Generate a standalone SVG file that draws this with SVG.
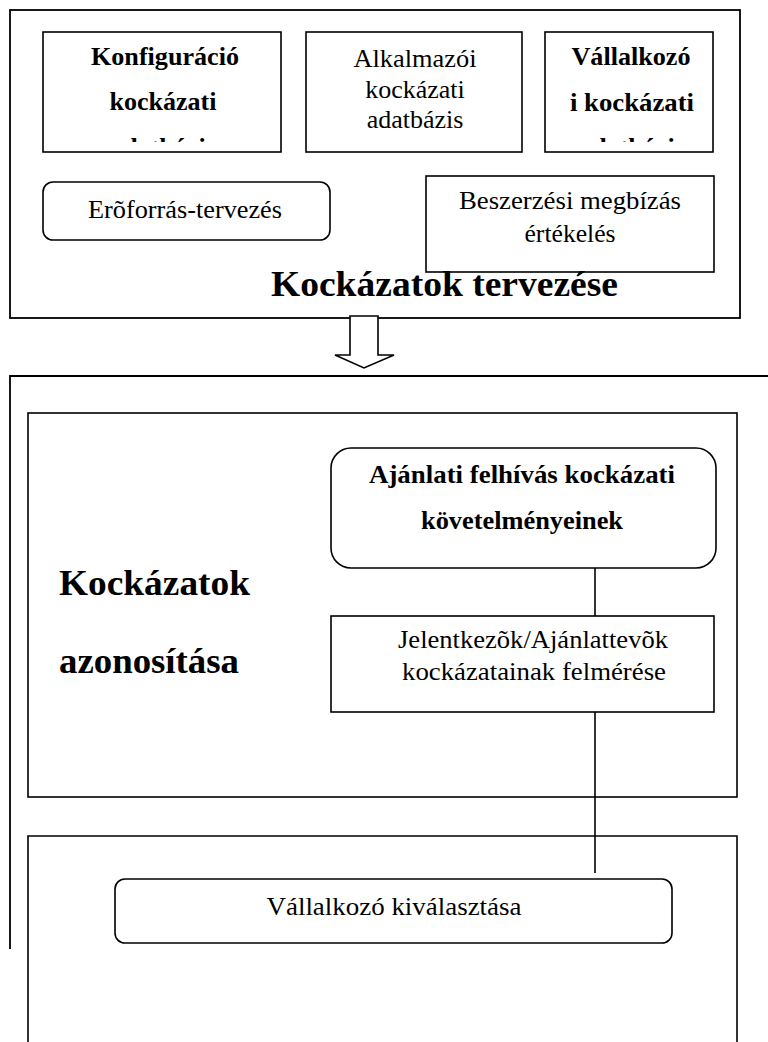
<svg xmlns="http://www.w3.org/2000/svg" width="768" height="1042" viewBox="0 0 768 1042" font-family="'Liberation Serif', 'DejaVu Serif', serif">
<style>
.box{fill:#fff;stroke:#000;stroke-width:1.6}
.frame{fill:none;stroke:#000;stroke-width:1.8}
.ln{fill:none;stroke:#000;stroke-width:1.6}
text{font-family:"Liberation Serif","Times New Roman",serif;fill:#000}
.r{font-size:26px}
.b{font-size:26px;font-weight:bold}
.big{font-size:35px;font-weight:bold}
.m{text-anchor:middle}
</style>
<defs>
<clipPath id="c1"><rect x="43" y="32" width="238" height="110"/></clipPath>
<clipPath id="c3"><rect x="545" y="32" width="168" height="110"/></clipPath>
</defs>
<rect width="768" height="1042" fill="#fff"/>

<g id="planning">
<rect class="frame" x="10" y="10" width="730" height="308"/>
</g>
<g id="konfig">
<rect class="box" x="43" y="32" width="238" height="120"/>
<g clip-path="url(#c1)">
<text class="b m" x="165" y="65" textLength="148" lengthAdjust="spacingAndGlyphs">Konfiguráció</text>
<text class="b m" x="163" y="110" textLength="107" lengthAdjust="spacingAndGlyphs">kockázati</text>
<text class="b m" x="163" y="156">adatbázis</text>
</g>
</g>
<g id="alkalmazoi">
<rect class="box" x="306" y="32" width="216" height="120"/>
<text class="r m" x="415" y="67" textLength="123" lengthAdjust="spacingAndGlyphs">Alkalmazói</text>
<text class="r m" x="415" y="98">kockázati</text>
<text class="r m" x="415" y="128">adatbázis</text>
</g>
<g id="vallalkozoi">
<rect class="box" x="545" y="32" width="168" height="120"/>
<g clip-path="url(#c3)">
<text class="b m" x="631" y="65" textLength="119" lengthAdjust="spacingAndGlyphs">Vállalkozó</text>
<text class="b m" x="632" y="111" textLength="124" lengthAdjust="spacingAndGlyphs">i kockázati</text>
<text class="b m" x="632" y="156">adatbázis</text>
</g>
</g>
<g id="eroforras">
<rect class="box" x="43" y="182" width="287" height="58" rx="10"/>
<text class="r m" x="185" y="218" textLength="194" lengthAdjust="spacingAndGlyphs">Erõforrás-tervezés</text>
</g>
<g id="beszerzesi">
<rect class="box" x="426" y="176" width="288" height="96"/>
<text class="r m" x="570" y="209" textLength="222" lengthAdjust="spacingAndGlyphs">Beszerzési megbízás</text>
<text class="r m" x="570" y="242" textLength="91" lengthAdjust="spacingAndGlyphs">értékelés</text>
</g>
<g id="title-planning">
<text class="big" x="271" y="296" textLength="347" lengthAdjust="spacingAndGlyphs">Kockázatok tervezése</text>
</g>

<g id="identification-outer">
<path class="frame" d="M10,949 V376 H768"/>
</g>
<g id="identification">
<rect class="box" x="28" y="413" width="709" height="384"/>
<text class="big" x="59" y="595" textLength="191" lengthAdjust="spacingAndGlyphs">Kockázatok</text>
<text class="big" x="59" y="673" textLength="180" lengthAdjust="spacingAndGlyphs">azonosítása</text>
</g>
<g id="selection-frame">
<path class="ln" d="M28,1042 V836 H737 V1042"/>
</g>
<g id="ajanlati">
<rect class="box" x="331" y="448" width="385" height="120" rx="20"/>
<text class="b m" x="522" y="483" textLength="306" lengthAdjust="spacingAndGlyphs">Ajánlati felhívás kockázati</text>
<text class="b m" x="522" y="529" textLength="202" lengthAdjust="spacingAndGlyphs">követelményeinek</text>
</g>
<g id="jelentkezok">
<rect class="box" x="331" y="616" width="383" height="96"/>
<text class="r m" x="533" y="648" textLength="270" lengthAdjust="spacingAndGlyphs">Jelentkezõk/Ajánlattevõk</text>
<text class="r m" x="534" y="680" textLength="264" lengthAdjust="spacingAndGlyphs">kockázatainak felmérése</text>
</g>
<g id="kivalasztas">
<rect class="box" x="115" y="879" width="557" height="64" rx="10"/>
<text class="r m" x="394" y="915" textLength="255" lengthAdjust="spacingAndGlyphs">Vállalkozó kiválasztása</text>
</g>

<g id="connectors">
<polygon class="box" points="350,316 378,316 378,355 394,355 364,368 335,355 350,355"/>
<line class="ln" x1="595" y1="568" x2="595" y2="616"/>
<line class="ln" x1="595" y1="712" x2="595" y2="873"/>
</g>
</svg>
